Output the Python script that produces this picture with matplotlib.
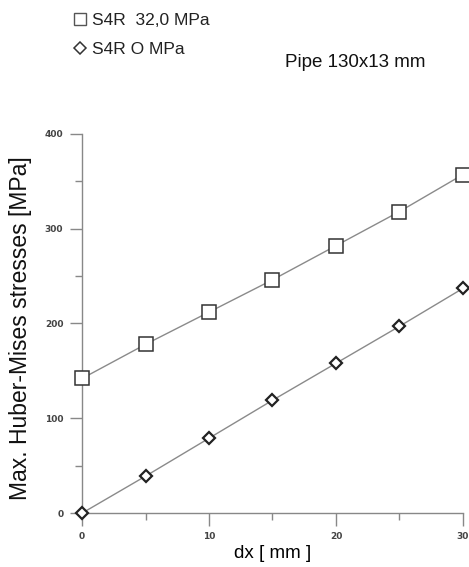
import numpy as np
import matplotlib.pyplot as plt
from matplotlib.lines import Line2D

plt.rcParams['font.family'] = ['Liberation Sans', 'DejaVu Sans']

dx = [0, 5, 10, 15, 20, 25, 30]
s_32 = [142, 178, 212, 246, 282, 318, 357]
s_0 = [0, 39, 79, 119, 158, 197, 237]
labels = ['S4R  32,0 MPa', 'S4R O MPa']

fig = plt.figure(figsize=(4.69, 5.67), dpi=100)
ax = fig.add_axes([0.175, 0.095, 0.812, 0.669])

ax.plot(dx, s_32, color='#8a8a8a', lw=1, marker='s', ms=10, mfc='white',
        mec='#333333', mew=1.1, clip_on=False, zorder=3)
ax.plot(dx, s_0, color='#8a8a8a', lw=1, marker='D', ms=6, mfc='white',
        mec='#222222', mew=1.6, clip_on=False, zorder=3)

ax.set_xlim(0, 30)
ax.set_ylim(0, 400)
ax.set_xticks([0, 10, 20, 30])
ax.set_xticks([5, 15, 25], minor=True)
ax.set_yticks([0, 100, 200, 300, 400])
ax.set_yticks([50, 150, 250, 350], minor=True)

for s in ['top', 'right']:
    ax.spines[s].set_visible(False)
for s in ['left', 'bottom']:
    ax.spines[s].set_color('#888888')
    ax.spines[s].set_linewidth(1)

ax.tick_params(which='major', length=9, width=1, color='#888888',
               labelsize=6.5, labelcolor='#444444', pad=4.5)
ax.tick_params(which='minor', length=5, width=1, color='#888888')
for t in ax.get_xticklabels() + ax.get_yticklabels():
    t.set_fontweight('bold')
    t.set_family('DejaVu Sans')

ax.set_xlabel('dx [ mm ]', fontsize=13.5, labelpad=3)
ax.set_ylabel('Max. Huber-Mises stresses [MPa]', fontsize=16.5, color='#111111')
ax.yaxis.set_label_coords(-0.131, 0.488)

handles = [Line2D([], [], ls='none', marker='s', ms=9, mfc='white', mec='#555555', mew=1),
           Line2D([], [], ls='none', marker='D', ms=6, mfc='white', mec='#333333', mew=1.1)]
fig.legend(handles, labels, loc='upper left', bbox_to_anchor=(0.125, 1.005),
           frameon=False, fontsize=12.5, handlelength=0.7, handletextpad=0.3,
           labelspacing=0.8, labelcolor='#222222')

fig.text(0.607, 0.89, 'Pipe 130x13 mm', fontsize=13.5, color='#111111', va='center')

fig.savefig('out.png', dpi=100)
